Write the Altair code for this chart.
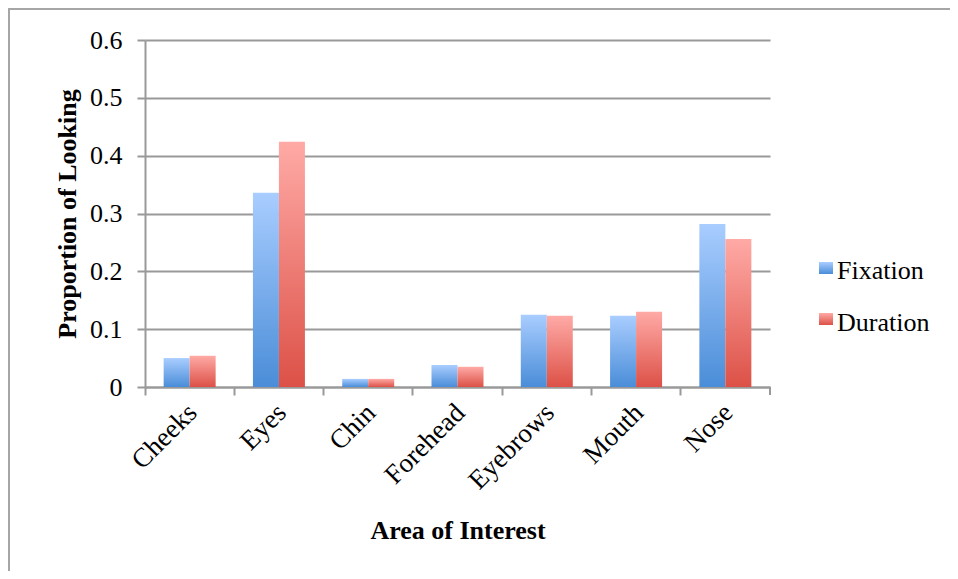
import altair as alt
import pandas as pd

categories = ["Cheeks", "Eyes", "Chin", "Forehead", "Eyebrows", "Mouth", "Nose"]
fixation = [0.050, 0.336, 0.014, 0.038, 0.125, 0.123, 0.282]
duration = [0.054, 0.424, 0.014, 0.035, 0.123, 0.130, 0.256]
series = ["Fixation", "Duration"]
y_ticks = [0, 0.1, 0.2, 0.3, 0.4, 0.5, 0.6]

top_colors = {"Fixation": "#a9cdff", "Duration": "#ffaaa6"}
bottom_colors = {"Fixation": "#4a8dd8", "Duration": "#dc5147"}

df = pd.DataFrame({
    "area": categories * 2,
    "series": ["Fixation"] * len(categories) + ["Duration"] * len(categories),
    "value": fixation + duration,
})

FONT = "Liberation Serif"
GRAY = "#999999"
W, H = 625, 347


def grad(s):
    return alt.Gradient(
        gradient="linear",
        stops=[alt.GradientStop(color=top_colors[s], offset=0),
               alt.GradientStop(color=bottom_colors[s], offset=1)],
        x1=0, x2=0, y1=0, y2=1,
    )


x_enc = alt.X(
    "area:N", sort=categories,
    scale=alt.Scale(domain=categories, paddingInner=0, paddingOuter=0),
    axis=alt.Axis(
        title="Area of Interest", labelAngle=-45, labelFont=FONT, labelFontSize=27,
        labelColor="black", labelPadding=4, labelOffset=-6, bandPosition=0, tickSize=8,
        tickColor=GRAY, tickWidth=2, domainColor=GRAY, domainWidth=2, grid=False,
        titleFont=FONT, titleFontSize=26, titleFontWeight="bold", titleColor="black",
        titleX=W / 2, titleY=143, titleBaseline="middle",
    ),
)
y_enc = alt.Y(
    "value:Q",
    scale=alt.Scale(domain=[0, 0.6], nice=False),
    axis=alt.Axis(
        values=y_ticks, format="~g", title="Proportion of Looking",
        labelFont=FONT, labelFontSize=26, labelColor="black", labelPadding=15,
        tickSize=8, tickColor=GRAY, tickWidth=2, domainColor=GRAY, domainWidth=2,
        grid=True, gridColor=GRAY, gridWidth=2,
        titleFont=FONT, titleFontSize=26, titleFontWeight="bold", titleColor="black",
        titleAngle=-90, titleX=-78, titleY=H / 2, titleBaseline="middle",
    ),
)
xoff = alt.XOffset("series:N", sort=series,
                   scale=alt.Scale(domain=series, paddingOuter=0.717, paddingInner=0))

layers = []

# outer border
layers.append(
    alt.Chart(pd.DataFrame({"k": [0]})).mark_rect(fill=None, stroke="#a6a6a6", strokeWidth=2).encode(
        x=alt.value(-136), x2=alt.value(830), y=alt.value(-31), y2=alt.value(620)
    )
)

for s in series:
    layers.append(
        alt.Chart(df).transform_filter(alt.datum.series == s).mark_bar(fill=grad(s)).encode(
            x=x_enc, y=y_enc, xOffset=xoff
        )
    )

# closing tick at right end of x axis
layers.append(
    alt.Chart(pd.DataFrame({"k": [0]})).mark_rule(color=GRAY, strokeWidth=2).encode(
        x=alt.value(W), y=alt.value(H), y2=alt.value(H + 8)
    )
)

# legend
legend_y = {"Fixation": (222, 234, 239), "Duration": (273, 285, 291)}
for s in series:
    y0, y1, yb = legend_y[s]
    one = pd.DataFrame({"series": [s]})
    layers.append(
        alt.Chart(one).mark_rect(fill=grad(s)).encode(
            x=alt.value(674), x2=alt.value(688), y=alt.value(y0), y2=alt.value(y1)
        )
    )
    layers.append(
        alt.Chart(one).mark_text(font=FONT, fontSize=26, color="black", align="left",
                                 baseline="alphabetic").encode(
            x=alt.value(692), y=alt.value(yb), text="series:N"
        )
    )

chart = alt.layer(*layers).properties(
    width=W, height=H,
    autosize=alt.AutoSizeParams(type="none"),
    padding={"left": 137, "top": 32, "right": 180, "bottom": 184},
    background="white",
).configure_view(stroke=None)

chart.save("out.html", embed_options={"renderer": "svg", "actions": False})
